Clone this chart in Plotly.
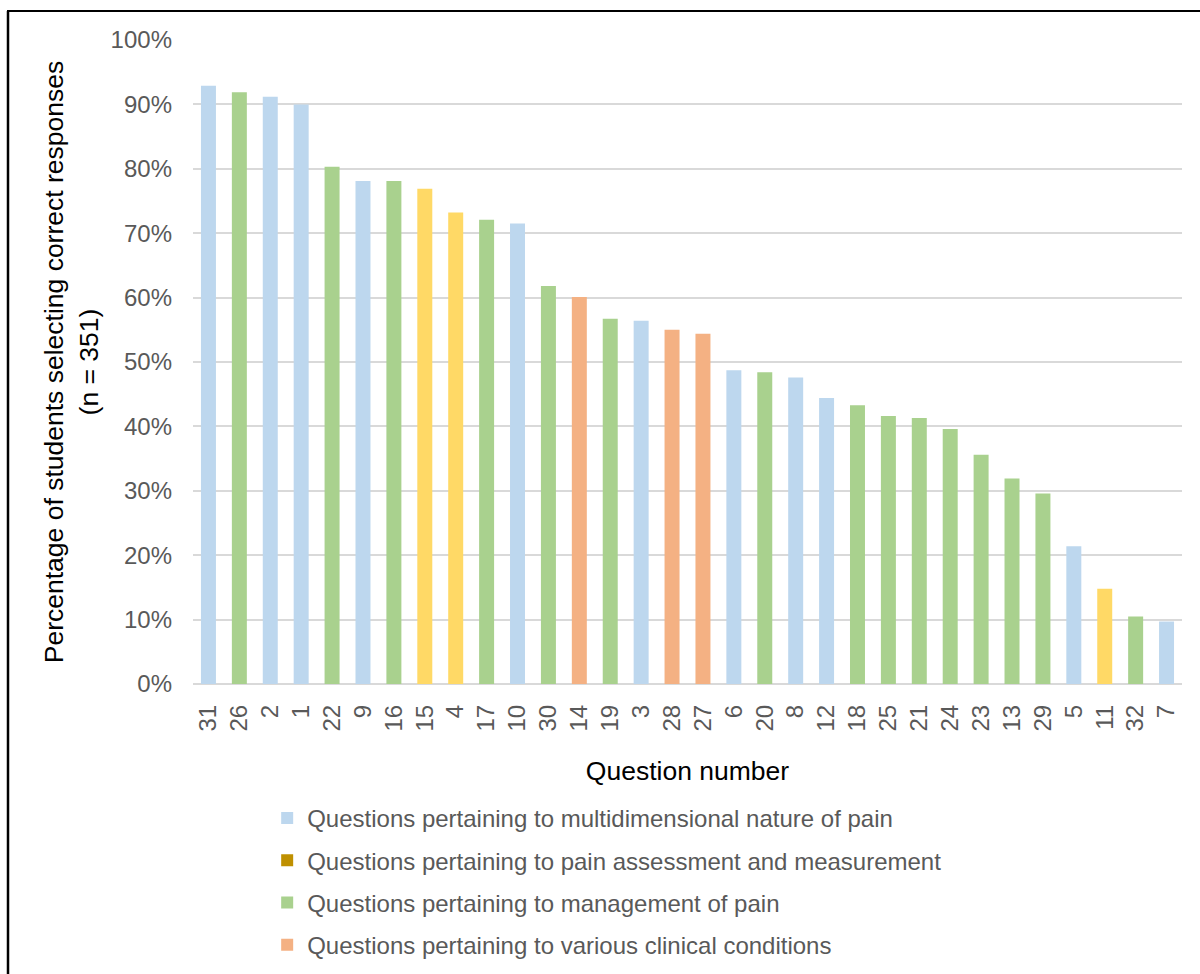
import plotly.graph_objects as go

# Questions sorted by share of correct answers
questions = ["31", "26", "2", "1", "22", "9", "16", "15", "4", "17", "10", "30", "14", "19", "3", "28",
             "27", "6", "20", "8", "12", "18", "25", "21", "24", "23", "13", "29", "5", "11", "32", "7"]
pct_correct = [92.9, 91.9, 91.2, 90.0, 80.3, 78.1, 78.1, 76.9, 73.2, 72.1, 71.5, 61.8, 60.1, 56.7, 56.4, 55.0,
               54.4, 48.7, 48.4, 47.6, 44.4, 43.3, 41.6, 41.3, 39.6, 35.6, 31.9, 29.6, 21.4, 14.8, 10.5, 9.7]
# M = multidimensional nature, A = assessment/measurement, G = management, C = clinical conditions
domain = ["M", "G", "M", "M", "G", "M", "G", "A", "A", "G", "M", "G", "C", "G", "M", "C",
          "C", "M", "G", "M", "M", "G", "G", "G", "G", "G", "G", "G", "M", "A", "G", "M"]

domain_names = {
    "M": "Questions pertaining to multidimensional nature of pain",
    "A": "Questions pertaining to pain assessment and measurement",
    "G": "Questions pertaining to management of pain",
    "C": "Questions pertaining to various clinical conditions",
}
bar_colors = {"M": "#BDD7EE", "A": "#FFD966", "G": "#A9D18E", "C": "#F4B183"}
legend_colors = {"M": "#BDD7EE", "A": "#BF9000", "G": "#A9D18E", "C": "#F4B183"}

fig = go.Figure()

for key in ["M", "A", "G", "C"]:
    xs = [q for q, d in zip(questions, domain) if d == key]
    ys = [v for v, d in zip(pct_correct, domain) if d == key]
    fig.add_trace(go.Bar(
        x=xs, y=ys, width=0.485,
        marker=dict(color=bar_colors[key], line=dict(width=0)),
        showlegend=False, hoverinfo="x+y",
    ))
    # legend swatch entry
    fig.add_trace(go.Bar(
        x=[questions[0]], y=[0], width=0.485,
        marker=dict(color=legend_colors[key], line=dict(width=0)),
        name=domain_names[key], legendgroup=key, showlegend=True, hoverinfo="skip",
    ))

grey = "#595959"
W, H = 1200, 974
L, R, T, B = 193, 18, 40, 290
plot_w, plot_h = W - L - R, H - T - B

fig.update_layout(
    width=W, height=H,
    margin=dict(l=L, r=R, t=T, b=B, autoexpand=False),
    paper_bgcolor="white", plot_bgcolor="white",
    barmode="overlay",
    font=dict(family="Liberation Sans, Arial, sans-serif", color=grey),
    xaxis=dict(
        type="category", categoryorder="array", categoryarray=questions,
        tickangle=-90, tickfont=dict(size=24, color=grey), ticklabelstandoff=15,
        showgrid=False, showline=False, ticks="", automargin=False,
        title=dict(text="Question number", font=dict(size=26.5, color="black"), standoff=30),
    ),
    yaxis=dict(
        range=[0, 100], dtick=10, ticksuffix="%",
        tickfont=dict(size=24, color=grey), ticklabelstandoff=20,
        showgrid=True, gridcolor="#D9D9D9", gridwidth=2,
        zeroline=True, zerolinecolor="#D9D9D9", zerolinewidth=2,
        showline=False, ticks="", ticklen=0, automargin=False,
        title=dict(text="Percentage of students selecting correct responses<br>(n = 351)",
                   font=dict(size=26.5, color="black"), standoff=4),
    ),
    legend=dict(
        x=0.075, xanchor="left", yref="container", y=1 - 796 / H, yanchor="top",
        orientation="v", traceorder="grouped", tracegroupgap=8,
        font=dict(size=24, color=grey), bgcolor="rgba(0,0,0,0)",
        itemwidth=30,
    ),
    shapes=[
        dict(type="line", xref="paper", yref="paper",
             x0=(7 - L) / plot_w, x1=(1205 - L) / plot_w,
             y0=(H - B - 11) / plot_h, y1=(H - B - 11) / plot_h,
             line=dict(color="black", width=2)),
        dict(type="line", xref="paper", yref="paper",
             x0=(8 - L) / plot_w, x1=(8 - L) / plot_w,
             y0=(H - B - 11) / plot_h, y1=(H - B - 990) / plot_h,
             line=dict(color="black", width=2.5)),
    ],
)

fig.write_html("out.html")
